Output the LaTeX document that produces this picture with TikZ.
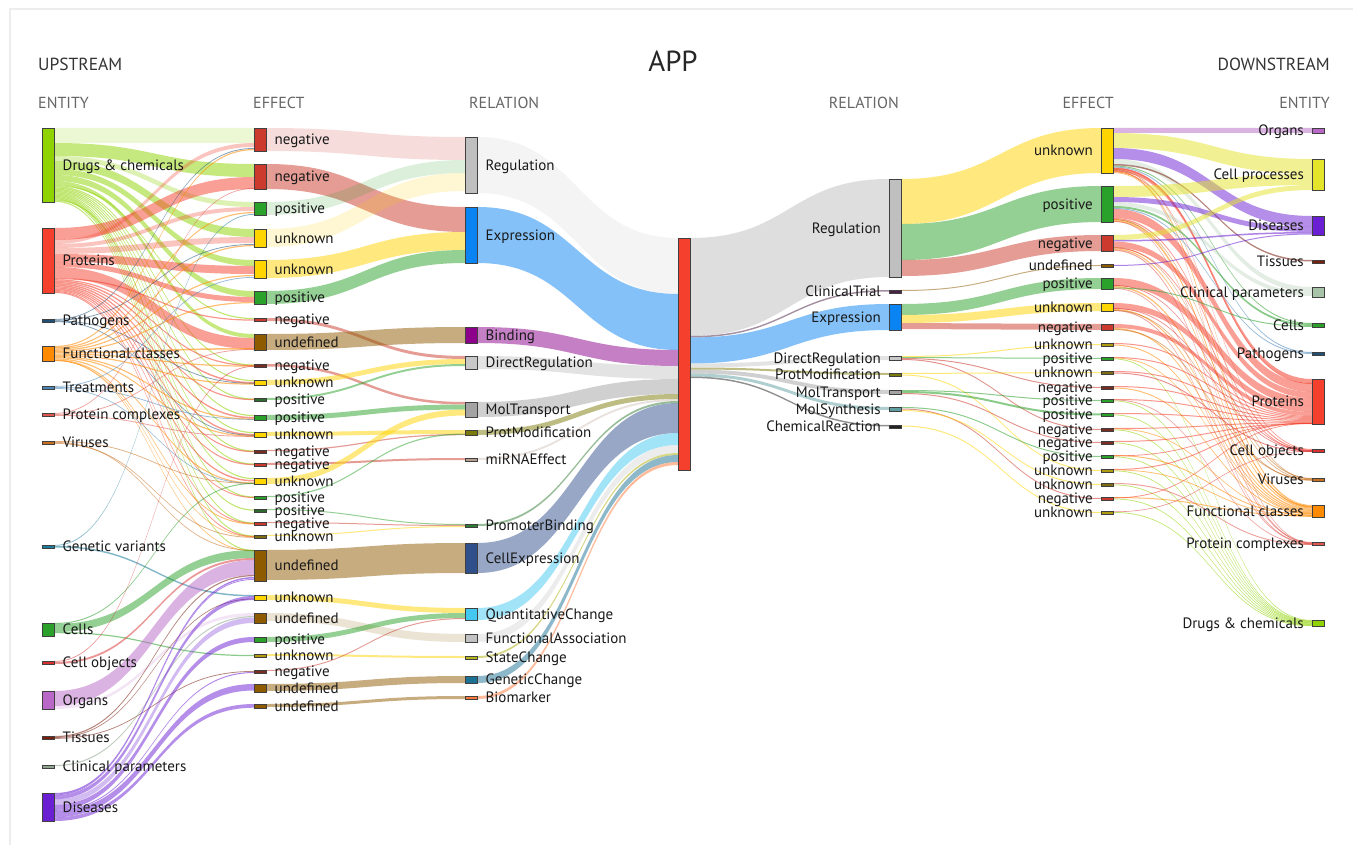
\documentclass[tikz,border=0pt]{standalone}
\usepackage{fontspec}
\setmainfont{PT Sans}
\usetikzlibrary{calc}
\pgfdeclarelayer{bg}
\pgfsetlayers{bg,main}
% entity colours
\definecolor{cDrug}{HTML}{8FD400}
\definecolor{cProt}{HTML}{F4402C}
\definecolor{cPath}{HTML}{1F5078}
\definecolor{cFunc}{HTML}{FF8A00}
\definecolor{cTreat}{HTML}{4A86B8}
\definecolor{cPCx}{HTML}{E0574F}
\definecolor{cVir}{HTML}{C8701E}
\definecolor{cGenV}{HTML}{1B7C9C}
\definecolor{cCell}{HTML}{2BA02B}
\definecolor{cCObj}{HTML}{D93030}
\definecolor{cOrg}{HTML}{B968C7}
\definecolor{cTis}{HTML}{7A1F10}
\definecolor{cClinU}{HTML}{8FA58F}
\definecolor{cClinD}{HTML}{A8C4A8}
\definecolor{cDis}{HTML}{6B1FD3}
\definecolor{cCPr}{HTML}{E4E42A}
% effect colours
\definecolor{cNeg}{HTML}{CB3A2C}
\definecolor{cPos}{HTML}{2AA12A}
\definecolor{cUnk}{HTML}{FFD500}
\definecolor{cUnd}{HTML}{8E5B00}
\definecolor{cNegD}{HTML}{7E2B22}
\definecolor{cPosD}{HTML}{2D6B2D}
\definecolor{cOli}{HTML}{7F6B10}
\definecolor{cOliY}{HTML}{B09A10}
% relation colours
\definecolor{cReg}{HTML}{BFBFBF}
\definecolor{cExp}{HTML}{0B84F3}
\definecolor{cBin}{HTML}{8C008C}
\definecolor{cDR}{HTML}{C8C8C8}
\definecolor{cMT}{HTML}{A3A3A3}
\definecolor{cPM}{HTML}{7A7A08}
\definecolor{cMi}{HTML}{B79E8E}
\definecolor{cPB}{HTML}{2F7D32}
\definecolor{cCE}{HTML}{30508C}
\definecolor{cQC}{HTML}{45C8F0}
\definecolor{cFA}{HTML}{C2C2C2}
\definecolor{cSC}{HTML}{B5B520}
\definecolor{cGC}{HTML}{1B7295}
\definecolor{cBM}{HTML}{FF7A3A}
\definecolor{cCT}{HTML}{4B2245}
\definecolor{cMS}{HTML}{5E9EA0}
\definecolor{cCR}{HTML}{222222}
\definecolor{cApp}{HTML}{F4402C}

\tikzset{
  nd/.style={draw=black!75, line width=0.6pt, minimum width=12.5pt, inner sep=0pt, outer sep=0pt},
  lb/.style={font=\fontsize{15}{17}\selectfont, text=black!90, inner sep=0pt, text height=10.3pt, text depth=0pt},
  hd/.style={font=\fontsize{16}{18}\selectfont, text=black!60, inner sep=0pt, text height=11pt, text depth=0pt},
  hb/.style={font=\fontsize{17.5}{19}\selectfont, text=black!80, inner sep=0pt, text height=12pt, text depth=0pt},
  F/.style={fill=#1, fill opacity=.5},
  Q/.style={fill=#1, fill opacity=.3},
  P/.style={fill=#1, fill opacity=.17},
  L/.style={fill=#1, fill opacity=.55},
}

% band from node #2 (offset #3 from its top) to node #4 (offset #5), width #6
\newcommand\fl[6]{%
  \coordinate (flA) at ([yshift=-#3pt]#2.north east);
  \coordinate (flB) at ([yshift=-#3pt-#6pt]#2.north east);
  \coordinate (flC) at ([yshift=-#5pt]#4.north west);
  \coordinate (flD) at ([yshift=-#5pt-#6pt]#4.north west);
  \coordinate (flM) at ($(flA)!.5!(flC)$);
  \fill[#1] (flA) .. controls (flM |- flA) and (flM |- flC) .. (flC) -- (flD)
     .. controls (flM |- flD) and (flM |- flB) .. (flB) -- cycle;}

\newcommand\nR[6]{%
  \node[nd,fill=#5,minimum height={(#4-#3)*1pt}] (#1) at ({#2+6.25},{(#3+#4)/2}) {};
  \node[lb,anchor=west] (#1-l) at ([xshift=8pt]#1.east) {#6};}
\newcommand\nL[6]{%
  \node[nd,fill=#5,minimum height={(#4-#3)*1pt}] (#1) at ({#2+6.25},{(#3+#4)/2}) {};
  \node[lb,anchor=east] (#1-l) at ([xshift=-8pt]#1.west) {#6};}

\begin{document}
\begin{tikzpicture}[x=1pt,y=-1pt]
\useasboundingbox (0,0) rectangle (1353,845);

% headers
\node[hb, anchor=west] (hUp) at (38,65) {UPSTREAM};
\node[hb, anchor=east] (hDown) at (1330,65) {DOWNSTREAM};
\node[font=\fontsize{29}{31}\selectfont, text=black!85, inner sep=0pt] (hApp) at (673,61) {APP};
\node[hd, anchor=west] (h1) at (38,103) {ENTITY};
\node[hd, anchor=west] (h2) at (253,103) {EFFECT};
\node[hd, anchor=west] (h3) at (469,103) {RELATION};
\node[hd, anchor=east] (h4) at (899,103) {RELATION};
\node[hd, anchor=east] (h5) at (1114,103) {EFFECT};
\node[hd, anchor=east] (h6) at (1330,103) {ENTITY};

% upstream entities
\nR{dr}{42}{128}{202}{cDrug}{Drugs \& chemicals}
\nR{pr}{42}{228}{293}{cProt}{Proteins}
\nR{pa}{42}{319}{322}{cPath}{Pathogens}
\nR{fc}{42}{346}{361}{cFunc}{Functional classes}
\nR{tr}{42}{386}{389}{cTreat}{Treatments}
\nR{pc}{42}{413}{416}{cPCx}{Protein complexes}
\nR{vi}{42}{441}{444}{cVir}{Viruses}
\nR{gv}{42}{545}{548}{cGenV}{Genetic variants}
\nR{ce}{42}{623}{636}{cCell}{Cells}
\nR{co}{42}{661}{664}{cCObj}{Cell objects}
\nR{og}{42}{691}{709}{cOrg}{Organs}
\nR{ti}{42}{736}{739}{cTis}{Tissues}
\nR{cp}{42}{765}{768}{cClinU}{Clinical parameters}
\nR{di}{42}{793}{821}{cDis}{Diseases}

% upstream effects
\nR{u1}{254}{128}{151}{cNeg}{negative}
\nR{u2}{254}{164}{189}{cNeg}{negative}
\nR{u3}{254}{202}{215}{cPos}{positive}
\nR{u4}{254}{229}{247}{cUnk}{unknown}
\nR{u5}{254}{260}{278}{cUnk}{unknown}
\nR{u6}{254}{291}{304}{cPos}{positive}
\nR{u7}{254}{318}{321}{cNeg}{negative}
\nR{u8}{254}{334}{350}{cUnd}{undefined}
\nR{u9}{254}{364}{367}{cNegD}{negative}
\nR{u10}{254}{380}{385}{cUnk}{unknown}
\nR{u11}{254}{398}{401}{cPosD}{positive}
\nR{u12}{254}{415}{420}{cPos}{positive}
\nR{u13}{254}{432}{437}{cUnk}{unknown}
\nR{u14}{254}{450}{453}{cNegD}{negative}
\nR{u15}{254}{463}{466}{cNeg}{negative}
\nR{u16}{254}{478}{484}{cUnk}{unknown}
\nR{u17}{254}{496}{499}{cPos}{positive}
\nR{u18}{254}{509}{512}{cPosD}{positive}
\nR{u19}{254}{522}{525}{cNeg}{negative}
\nR{u20}{254}{535}{538}{cOli}{unknown}
\nR{u21}{254}{550}{581}{cUnd}{undefined}
\nR{u22}{254}{595}{600}{cUnk}{unknown}
\nR{u23}{254}{613}{623}{cUnd}{undefined}
\nR{u24}{254}{637}{642}{cPos}{positive}
\nR{u25}{254}{654}{657}{cOliY}{unknown}
\nR{u26}{254}{670}{673}{cNegD}{negative}
\nR{u27}{254}{684}{692}{cUnd}{undefined}
\nR{u28}{254}{704}{708}{cUnd}{undefined}

% upstream relations
\nR{rReg}{465}{137}{193}{cReg}{Regulation}
\nR{rExp}{465}{207}{263}{cExp}{Expression}
\nR{rBin}{465}{327}{343}{cBin}{Binding}
\nR{rDR}{465}{356}{369}{cDR}{DirectRegulation}
\nR{rMT}{465}{402}{417}{cMT}{MolTransport}
\nR{rPM}{465}{430}{435}{cPM}{ProtModification}
\nR{rMi}{465}{458}{461}{cMi}{miRNAEffect}
\nR{rPB}{465}{524}{527}{cPB}{PromoterBinding}
\nR{rCE}{465}{543}{573}{cCE}{CellExpression}
\nR{rQC}{465}{608}{620}{cQC}{QuantitativeChange}
\nR{rFA}{465}{634}{642}{cFA}{FunctionalAssociation}
\nR{rSC}{465}{656}{659}{cSC}{StateChange}
\nR{rGC}{465}{676}{683}{cGC}{GeneticChange}
\nR{rBM}{465}{696}{699}{cBM}{Biomarker}

% centre
\node[nd,fill=cApp,minimum height=232pt] (app) at (684.25,354) {};

% downstream relations
\nL{dReg}{889}{179}{277}{cReg}{Regulation}
\nL{dCT}{889}{290}{293}{cCT}{ClinicalTrial}
\nL{dExp}{889}{304}{330}{cExp}{Expression}
\nL{dDR}{889}{356}{360}{cDR}{DirectRegulation}
\nL{dPM}{889}{373}{376}{cPM}{ProtModification}
\nL{dMT}{889}{390}{394}{cMT}{MolTransport}
\nL{dMS}{889}{407}{411}{cMS}{MolSynthesis}
\nL{dCR}{889}{425}{428}{cCR}{ChemicalReaction}

% downstream effects
\nL{e1}{1101}{128}{173}{cUnk}{unknown}
\nL{e2}{1101}{186}{222}{cPos}{positive}
\nL{e3}{1101}{235}{251}{cNeg}{negative}
\nL{e4}{1101}{264}{267}{cUnd}{undefined}
\nL{e5}{1101}{278}{289}{cPos}{positive}
\nL{e6}{1101}{303}{311}{cUnk}{unknown}
\nL{e7}{1101}{324}{330}{cNeg}{negative}
\nL{e8}{1101}{343}{346}{cOliY}{unknown}
\nL{e9}{1101}{357}{360}{cPos}{positive}
\nL{e10}{1101}{371}{374}{cOli}{unknown}
\nL{e11}{1101}{386}{389}{cNegD}{negative}
\nL{e12}{1101}{399}{402}{cPos}{positive}
\nL{e13}{1101}{413}{416}{cPos}{positive}
\nL{e14}{1101}{428}{431}{cNegD}{negative}
\nL{e15}{1101}{441}{444}{cNegD}{negative}
\nL{e16}{1101}{455}{458}{cPos}{positive}
\nL{e17}{1101}{469}{472}{cOliY}{unknown}
\nL{e18}{1101}{483}{486}{cOli}{unknown}
\nL{e19}{1101}{497}{500}{cNeg}{negative}
\nL{e20}{1101}{511}{514}{cOliY}{unknown}

% downstream entities
\nL{dOrg}{1312}{128}{133}{cOrg}{Organs}
\nL{dCPr}{1312}{159}{190}{cCPr}{Cell processes}
\nL{dDis}{1312}{216}{235}{cDis}{Diseases}
\nL{dTis}{1312}{260}{263}{cTis}{Tissues}
\nL{dClin}{1312}{287}{297}{cClinD}{Clinical parameters}
\nL{dCel}{1312}{323}{327}{cCell}{Cells}
\nL{dPat}{1312}{352}{355}{cPath}{Pathogens}
\nL{dPro}{1312}{379}{424}{cProt}{Proteins}
\nL{dCO}{1312}{449}{452}{cCObj}{Cell objects}
\nL{dVir}{1312}{478}{481}{cVir}{Viruses}
\nL{dFC}{1312}{505}{517}{cFunc}{Functional classes}
\nL{dPC}{1312}{542}{545}{cPCx}{Protein complexes}
\nL{dDr}{1312}{620}{626}{cDrug}{Drugs \& chemicals}

\begin{pgfonlayer}{bg}
\fill[white] (0,0) rectangle (1353,845);
\draw[black!7, line width=1.5pt] (10,845) -- (10,9) -- (1353,9);
% ---------- entity -> effect (upstream)
\fl{P=cDrug}{dr}{0}{u1}{0}{15}
\fl{F=cDrug}{dr}{15}{u2}{0}{13}
\fl{Q=cDrug}{dr}{28}{u3}{0}{5}
\fl{F=cDrug}{dr}{33}{u4}{0}{8}
\fl{F=cDrug}{dr}{41}{u5}{0}{6}
\fl{F=cDrug}{dr}{47}{u6}{0}{6}
\fl{F=cDrug}{dr}{53}{u8}{0}{4}
\fl{L=cDrug}{dr}{57}{u7}{0}{1.2}
\fl{L=cDrug}{dr}{58.2}{u9}{0.5}{1.2}
\fl{L=cDrug}{dr}{59.4}{u10}{0}{1.2}
\fl{L=cDrug}{dr}{60.6}{u11}{0.5}{1.2}
\fl{L=cDrug}{dr}{61.8}{u12}{0}{1.2}
\fl{L=cDrug}{dr}{63}{u13}{0}{1.2}
\fl{L=cDrug}{dr}{64.2}{u14}{0.5}{1.2}
\fl{L=cDrug}{dr}{65.4}{u16}{0}{1.2}
\fl{L=cDrug}{dr}{66.6}{u17}{0.5}{1.2}
\fl{L=cDrug}{dr}{67.8}{u18}{0.5}{1.2}
\fl{L=cDrug}{dr}{69}{u19}{0.5}{1.2}
\fl{L=cDrug}{dr}{70.2}{u20}{0.5}{1.2}
\fl{L=cDrug}{dr}{71.4}{u15}{0.5}{1.2}
\fl{L=cDrug}{dr}{72.6}{u21}{0}{1.2}

\fl{F=cProt}{pr}{0}{u2}{13}{12}
\fl{Q=cProt}{pr}{12}{u1}{15}{4}
\fl{Q=cProt}{pr}{16}{u3}{5}{4}
\fl{Q=cProt}{pr}{20}{u4}{8}{6}
\fl{F=cProt}{pr}{26}{u5}{6}{8}
\fl{F=cProt}{pr}{34}{u6}{6}{5}
\fl{F=cProt}{pr}{39}{u8}{4}{11}
\fl{L=cProt}{pr}{50}{u7}{1.5}{1.2}
\fl{L=cProt}{pr}{51.2}{u9}{1}{1.2}
\fl{L=cProt}{pr}{52.4}{u10}{2}{1.5}
\fl{L=cProt}{pr}{53.9}{u11}{1}{1.2}
\fl{L=cProt}{pr}{55.1}{u12}{2}{1.5}
\fl{L=cProt}{pr}{56.6}{u13}{2}{1.5}
\fl{L=cProt}{pr}{58.1}{u14}{1}{1.2}
\fl{L=cProt}{pr}{59.3}{u15}{1}{1.2}
\fl{L=cProt}{pr}{60.5}{u16}{2}{1.5}
\fl{L=cProt}{pr}{62}{u17}{1}{1}
\fl{L=cProt}{pr}{63}{u19}{1}{1}
\fl{L=cProt}{pr}{64}{u20}{1}{1}

\fl{L=cPath}{pa}{0}{u1}{20}{0.8}
\fl{L=cPath}{pa}{0.8}{u4}{15}{0.8}
\fl{L=cPath}{pa}{1.6}{u10}{3}{0.8}
\fl{L=cPath}{pa}{2.2}{u13}{3}{0.8}

\fl{L=cFunc}{fc}{0}{u1}{21}{1.2}
\fl{L=cFunc}{fc}{1.2}{u3}{10}{1.2}
\fl{L=cFunc}{fc}{2.4}{u4}{16}{1.2}
\fl{L=cFunc}{fc}{3.6}{u5}{15}{1.2}
\fl{L=cFunc}{fc}{4.8}{u6}{11}{1.2}
\fl{L=cFunc}{fc}{6}{u8}{14}{1.5}
\fl{L=cFunc}{fc}{7.5}{u9}{1.5}{1.2}
\fl{L=cFunc}{fc}{8.7}{u10}{3.5}{1.2}
\fl{L=cFunc}{fc}{9.9}{u12}{3.5}{1.2}
\fl{L=cFunc}{fc}{11.1}{u13}{3.5}{1.2}
\fl{L=cFunc}{fc}{12.3}{u16}{4.5}{1.2}
\fl{L=cFunc}{fc}{13.5}{u19}{1.5}{1}
\fl{L=cFunc}{fc}{14.3}{u20}{1.5}{0.7}
\fl{L=cFunc}{fc}{14}{u21}{0.5}{0.8}

\fl{L=cTreat}{tr}{0}{u5}{17}{0.8}
\fl{L=cTreat}{tr}{1}{u12}{4}{0.8}
\fl{L=cTreat}{tr}{2}{u16}{5}{0.8}
\fl{L=cPCx}{pc}{0}{u2}{24}{0.8}
\fl{L=cPCx}{pc}{1}{u8}{15}{0.8}
\fl{L=cPCx}{pc}{2}{u13}{4}{0.8}
\fl{L=cVir}{vi}{0}{u16}{5}{0.8}
\fl{L=cVir}{vi}{1}{u21}{0}{0.8}
\fl{L=cVir}{vi}{2}{u20}{2}{0.8}
\fl{L=cGenV}{gv}{0}{u3}{12}{0.8}
\fl{L=cGenV}{gv}{1}{u22}{0}{1.5}

\fl{L=cCell}{ce}{0}{u16}{5}{1}
\fl{F=cCell}{ce}{1}{u21}{0}{8}
\fl{L=cCell}{ce}{9}{u25}{1}{1.2}
\fl{L=cCObj}{co}{0}{u9}{2}{0.8}
\fl{F=cCObj}{co}{1}{u21}{8}{2}
\fl{F=cOrg}{og}{0}{u21}{10}{15}
\fl{P=cOrg}{og}{15}{u23}{0}{3}
\fl{L=cTis}{ti}{0}{u21}{25}{1.2}
\fl{L=cTis}{ti}{1.2}{u22}{3.5}{0.8}
\fl{L=cTis}{ti}{2}{u26}{1}{0.8}
\fl{L=cClinU}{cp}{0}{u23}{3}{1.2}
\fl{L=cDis}{di}{0}{u21}{27}{1.5}
\fl{L=cDis}{di}{1.5}{u21}{29}{0.8}
\fl{F=cDis}{di}{2.3}{u22}{1}{4}
\fl{Q=cDis}{di}{6.3}{u23}{4.5}{5.5}
\fl{F=cDis}{di}{11.8}{u24}{0}{5}
\fl{L=cDis}{di}{16.8}{u26}{2}{1}
\fl{F=cDis}{di}{17.8}{u27}{0}{6.5}
\fl{F=cDis}{di}{24.3}{u28}{0}{3.7}

% ---------- effect -> relation (upstream)
\fl{P=cNeg}{u1}{0}{rReg}{0}{23}
\fl{F=cNeg}{u2}{0}{rExp}{0}{25}
\fl{P=cPos}{u3}{0}{rReg}{23}{13}
\fl{P=cUnk}{u4}{0}{rReg}{36}{18}
\fl{F=cUnk}{u5}{0}{rExp}{25}{18}
\fl{F=cPos}{u6}{0}{rExp}{43}{13}
\fl{F=cNeg}{u7}{0}{rDR}{0}{3}
\fl{F=cUnd}{u8}{0}{rBin}{0}{16}
\fl{F=cNeg}{u9}{0}{rMT}{0}{2.5}
\fl{F=cUnk}{u10}{0}{rDR}{3}{5}
\fl{F=cPos}{u11}{0}{rDR}{8}{2}
\fl{F=cPos}{u12}{0}{rMT}{2.5}{5}
\fl{F=cUnk}{u13}{0}{rPM}{0}{4}
\fl{F=cNeg}{u14}{0}{rPM}{4}{1.2}
\fl{F=cNeg}{u15}{0}{rMi}{0}{2}
\fl{F=cUnk}{u16}{0}{rMT}{7.5}{6}
\fl{F=cPos}{u17}{0}{rPM}{3.5}{1.2}
\fl{F=cPos}{u18}{0}{rPB}{0}{1}
\fl{F=cNeg}{u19}{0}{rPB}{1}{1}
\fl{F=cUnk}{u20}{0}{rPB}{2}{1}
\fl{F=cUnd}{u21}{0}{rCE}{0}{30}
\fl{F=cUnk}{u22}{0}{rQC}{0}{5}
\fl{P=cUnd}{u23}{0}{rFA}{0}{8}
\fl{F=cPos}{u24}{0}{rQC}{5}{5}
\fl{F=cUnk}{u25}{0}{rSC}{0}{2}
\fl{F=cNeg}{u26}{0}{rQC}{10}{1}
\fl{F=cUnd}{u27}{0}{rGC}{0}{7}
\fl{F=cUnd}{u28}{0}{rBM}{0}{3}

% ---------- relation -> APP
\fl{P=cReg}{rReg}{0}{app}{0}{56}
\fl{F=cExp}{rExp}{0}{app}{56}{56}
\fl{F=cBin}{rBin}{0}{app}{112}{16}
\fl{F=cDR}{rDR}{0}{app}{128}{13}
\fl{F=cMT}{rMT}{0}{app}{141}{15}
\fl{F=cPM}{rPM}{0}{app}{156}{5}
\fl{Q=cMi}{rMi}{0}{app}{161}{2}
\fl{F=cPB}{rPB}{0}{app}{163}{2}
\fl{F=cCE}{rCE}{0}{app}{165}{30}
\fl{F=cQC}{rQC}{0}{app}{195}{12}
\fl{Q=cFA}{rFA}{0}{app}{207}{8}
\fl{L=cSC}{rSC}{0}{app}{215}{2}
\fl{F=cGC}{rGC}{0}{app}{217}{7}
\fl{F=cBM}{rBM}{0}{app}{224}{3}

% ---------- APP -> relation (downstream)
\fl{F=cReg}{app}{0}{dReg}{0}{98}
\fl{F=cCT}{app}{98}{dCT}{0}{1.5}
\fl{F=cExp}{app}{99.5}{dExp}{0}{26}
\fl{F=cDR}{app}{125.5}{dDR}{0}{4}
\fl{F=cPM}{app}{129.5}{dPM}{0}{2}
\fl{F=cMT}{app}{131.5}{dMT}{0}{4}
\fl{F=cMS}{app}{135.5}{dMS}{0}{3}
\fl{F=cCR}{app}{138.5}{dCR}{0}{1.5}

% ---------- relation -> effect (downstream)
\fl{F=cUnk}{dReg}{0}{e1}{0}{45}
\fl{F=cPos}{dReg}{45}{e2}{0}{36}
\fl{F=cNeg}{dReg}{81}{e3}{0}{16}
\fl{F=cUnd}{dCT}{0}{e4}{1}{1}
\fl{F=cPos}{dExp}{0}{e5}{0}{11}
\fl{F=cUnk}{dExp}{11}{e6}{0}{8}
\fl{F=cNeg}{dExp}{19}{e7}{0}{6}
\fl{L=cUnk}{dDR}{0}{e8}{1}{1}
\fl{L=cPos}{dDR}{1}{e9}{1}{1}
\fl{L=cNeg}{dDR}{2}{e11}{1}{1}
\fl{L=cNeg}{dDR}{3}{e14}{1}{1}
\fl{L=cUnk}{dPM}{0}{e10}{1}{1}
\fl{L=cUnk}{dPM}{1.5}{e17}{1}{1}
\fl{L=cPos}{dMT}{0}{e12}{1}{1}
\fl{L=cPos}{dMT}{1}{e13}{0.5}{2}
\fl{L=cNeg}{dMT}{3}{e15}{1}{1}
\fl{L=cPos}{dMS}{0}{e16}{1}{1}
\fl{L=cNeg}{dMS}{1.5}{e19}{1}{1}
\fl{L=cUnk}{dMS}{3}{e18}{1}{1}
\fl{L=cUnk}{dCR}{0.5}{e20}{1}{1}

% ---------- effect -> entity (downstream)
\fl{F=cOrg}{e1}{0}{dOrg}{0}{5}
\fl{F=cCPr}{e1}{5}{dCPr}{0}{15}
\fl{F=cDis}{e1}{20}{dDis}{0}{11}
\fl{Q=cClinD}{e1}{31}{dClin}{0}{5}
\fl{L=cTis}{e1}{36}{dTis}{0}{1.5}
\fl{L=cCell}{e1}{37.5}{dCel}{0}{1}
\fl{L=cTreat}{e1}{38.5}{dPat}{0}{1}
\fl{L=cProt}{e1}{39.5}{dPro}{0}{4}
\fl{L=cProt}{e1}{40}{dPro}{4}{1}
\fl{L=cVir}{e1}{41}{dVir}{0.5}{0.8}
\fl{L=cPCx}{e1}{42}{dPC}{0.5}{0.8}
\fl{L=cProt}{e1}{43.5}{dCO}{0}{0.8}
\fl{L=cFunc}{e1}{44.3}{dFC}{0}{0.7}
\fl{L=cFunc}{e1}{43}{dFC}{1}{0.8}

\fl{F=cCPr}{e2}{0}{dCPr}{15}{11}
\fl{F=cDis}{e2}{11}{dDis}{11}{5}
\fl{Q=cClinD}{e2}{16}{dClin}{5}{4}
\fl{L=cCell}{e2}{20}{dCel}{1}{2}
\fl{L=cTreat}{e2}{22}{dPat}{1}{1}
\fl{F=cProt}{e2}{23}{dPro}{4}{9}
\fl{L=cProt}{e2}{32}{dCO}{0.8}{1.2}
\fl{L=cFunc}{e2}{33}{dFC}{1.5}{0.8}
\fl{L=cVir}{e2}{33.2}{dVir}{0}{1}
\fl{L=cFunc}{e2}{34.2}{dFC}{0.7}{1.5}
\fl{L=cPCx}{e2}{35}{dPC}{1}{0.8}

\fl{F=cCPr}{e3}{0}{dCPr}{26}{5}
\fl{L=cDis}{e3}{5}{dDis}{16}{1.5}
\fl{F=cProt}{e3}{6.5}{dPro}{13}{6}
\fl{L=cVir}{e3}{12}{dVir}{1.5}{0.8}
\fl{L=cProt}{e3}{12.5}{dCO}{2}{1}
\fl{L=cFunc}{e3}{13.5}{dFC}{2.2}{1.2}
\fl{L=cPCx}{e3}{14.7}{dPC}{0}{1.2}

\fl{L=cDis}{e4}{1}{dDis}{17.5}{1}
\fl{F=cProt}{e5}{0}{dPro}{19}{8}
\fl{L=cCObj}{e5}{7}{dCO}{1}{0.8}
\fl{L=cFunc}{e5}{8}{dFC}{3.4}{1.5}
\fl{L=cCell}{e5}{9.5}{dCel}{3}{1}
\fl{L=cPCx}{e5}{10}{dPC}{1.5}{0.8}
\fl{F=cProt}{e6}{0}{dPro}{27}{6}
\fl{L=cCObj}{e6}{5}{dCO}{1.5}{0.8}
\fl{L=cFunc}{e6}{6}{dFC}{4.9}{1.2}
\fl{L=cPCx}{e6}{7}{dPC}{1.2}{1}
\fl{L=cVir}{e6}{7}{dVir}{2}{0.8}
\fl{F=cProt}{e7}{0}{dPro}{33}{4}
\fl{L=cFunc}{e7}{4}{dFC}{6.1}{1.2}
\fl{L=cVir}{e7}{5}{dVir}{1}{1}

\fl{L=cProt}{e8}{0}{dPro}{37}{1}
\fl{L=cFunc}{e8}{1.5}{dFC}{7.3}{1}
\fl{L=cProt}{e9}{0}{dPro}{38}{1}
\fl{L=cFunc}{e9}{0.5}{dFC}{8}{0.8}
\fl{L=cDrug}{e9}{1.5}{dDr}{0}{0.8}
\fl{L=cProt}{e10}{0}{dPro}{39}{1}
\fl{L=cCObj}{e10}{1.5}{dCO}{2}{1}
\fl{L=cProt}{e11}{0}{dPro}{40}{1}
\fl{L=cFunc}{e11}{1.5}{dFC}{8.3}{1}
\fl{L=cProt}{e12}{0}{dPro}{41}{1}
\fl{L=cPCx}{e12}{0.5}{dPC}{2}{0.8}
\fl{L=cDrug}{e12}{1.5}{dDr}{0.6}{0.8}
\fl{L=cProt}{e13}{0}{dPro}{42}{1}
\fl{L=cDrug}{e13}{1.5}{dDr}{1.2}{0.8}
\fl{L=cProt}{e14}{0}{dPro}{43}{1}
\fl{L=cFunc}{e14}{0.5}{dFC}{10}{0.8}
\fl{L=cDrug}{e14}{1.5}{dDr}{1.8}{0.8}
\fl{L=cProt}{e15}{0}{dPro}{44}{1}
\fl{L=cDrug}{e15}{1.5}{dDr}{2.4}{0.8}
\fl{L=cFunc}{e16}{0}{dFC}{9.3}{1}
\fl{L=cProt}{e16}{0.5}{dPro}{44}{0.8}
\fl{L=cDrug}{e16}{1.5}{dDr}{3}{0.8}
\fl{L=cProt}{e17}{0}{dPro}{43.5}{1}
\fl{L=cFunc}{e17}{0.5}{dFC}{11}{0.8}
\fl{L=cDrug}{e17}{1.5}{dDr}{3.6}{0.8}
\fl{L=cPCx}{e18}{0}{dPC}{2}{1}
\fl{L=cDrug}{e18}{1.5}{dDr}{4.2}{0.8}
\fl{L=cFunc}{e19}{0}{dFC}{10.3}{1}
\fl{L=cProt}{e19}{0.5}{dPro}{44}{0.8}
\fl{L=cDrug}{e19}{1.5}{dDr}{4.8}{0.8}
\fl{L=cCObj}{e20}{0.5}{dCO}{2}{0.6}
\fl{L=cDrug}{e20}{1}{dDr}{5.4}{0.8}
\end{pgfonlayer}
\end{tikzpicture}
\end{document}
